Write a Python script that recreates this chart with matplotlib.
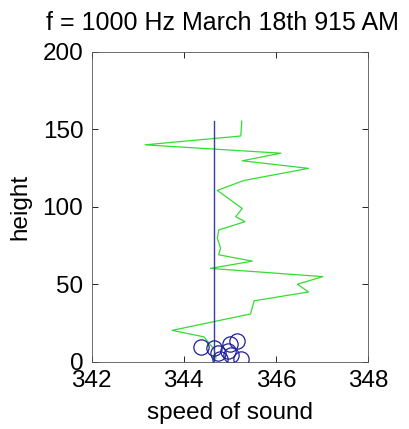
import matplotlib
matplotlib.use("Agg")
import matplotlib.pyplot as plt

plt.rcParams['font.family'] = ['Liberation Sans', 'DejaVu Sans']

# green profile: speed of sound vs height
green_speed = [345.26, 345.24, 343.16, 346.11, 345.27, 346.71, 345.31, 344.73,
               345.27, 345.13, 345.33, 344.76, 344.73, 344.80, 344.76, 345.49,
               344.58, 347.02, 346.47, 346.71, 345.53, 345.45, 343.75, 344.44,
               344.66, 344.70]
green_height = [155.3, 145.7, 140.0, 134.6, 129.7, 124.8, 117.0, 110.6,
                98.9, 93.6, 90.4, 85.0, 79.7, 73.4, 69.0, 64.9,
                60.2, 54.9, 50.0, 45.0, 39.3, 30.8, 20.2, 16.0,
                8.0, 2.0]

# mean speed (vertical line)
mean_speed = 344.66
line_heights = [0, 155.3]

# measured points (circles)
circ_speed = [344.37, 344.66, 344.74, 344.78, 345.00, 345.15, 344.96, 345.02, 345.25]
circ_height = [9.5, 8.5, 5.5, 2.0, 11.5, 13.5, 7.0, 4.0, 1.5]

fig = plt.figure(figsize=(4.10, 4.29), dpi=100)
ax = fig.add_axes([0.2234, 0.157, 0.674, 0.722])

ax.plot(green_speed, green_height, color='#33dd33', lw=0.9)
ax.plot([mean_speed, mean_speed], line_heights, color='#3a3aa8', lw=1.0)
ax.plot(circ_speed, circ_height, 'o', mfc='none', mec='#20209a', ms=11, mew=0.9)

ax.set_xlim(342, 348)
ax.set_ylim(0, 200)
ax.set_xticks([342, 344, 346, 348])
ax.set_yticks([0, 50, 100, 150, 200])
ax.tick_params(direction='in', top=True, right=True, labelsize=17.5,
               length=4, width=0.6, pad=6)
for s in ax.spines.values():
    s.set_linewidth(0.6)
    s.set_color('#555555')

ax.set_xlabel('speed of sound', fontsize=17.5, labelpad=7)
ax.set_ylabel('height', fontsize=17.5, labelpad=8)
ax.set_title('f = 1000 Hz March 18th 915 AM', fontsize=18, pad=16, x=0.475)

fig.savefig('out.png', dpi=100)
